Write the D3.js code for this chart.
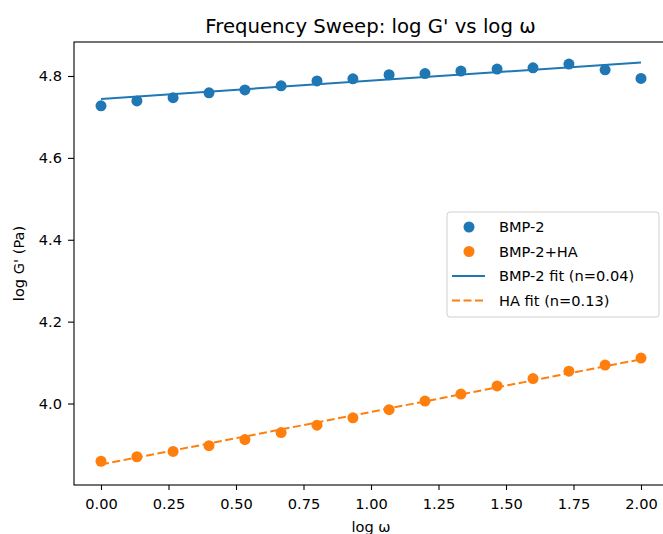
<!DOCTYPE html>
<html>
<head>
<meta charset="utf-8">
<script src="https://cdn.jsdelivr.net/npm/d3@7"></script>
<style>
  body { margin: 0; background: #fff; }
  svg { font-family: "DejaVu Sans", sans-serif; }
</style>
</head>
<body>
<svg id="chart"></svg>
<script>
// log omega values (16 points)
var logW = [0.000, 0.133, 0.267, 0.400, 0.533, 0.667, 0.800, 0.933,
            1.067, 1.200, 1.333, 1.467, 1.600, 1.733, 1.867, 2.000];

// log G' for BMP-2
var bmp2 = [4.727, 4.739, 4.747, 4.759, 4.766, 4.776, 4.788, 4.793,
            4.803, 4.806, 4.812, 4.817, 4.820, 4.829, 4.815, 4.794];

// log G' for BMP-2+HA
var bmp2ha = [3.859, 3.870, 3.883, 3.897, 3.912, 3.929, 3.947, 3.965,
              3.985, 4.006, 4.023, 4.043, 4.061, 4.079, 4.094, 4.111];

// fitted lines (end points)
var fitX = [0, 2];
var bmp2Fit = [4.744, 4.833];
var haFit = [3.851, 4.108];

var xTicks = [0, 0.25, 0.5, 0.75, 1.0, 1.25, 1.5, 1.75, 2.0];
var yTicks = [4.0, 4.2, 4.4, 4.6, 4.8];

var legendLabels = ["BMP-2", "BMP-2+HA", "BMP-2 fit (n=0.04)", "HA fit (n=0.13)"];

var blue = "#1f77b4", orange = "#ff7f0e";
var fs = "14.6px";

// set the dimensions and margins of the graph
var margin = { top: 42, right: 0, bottom: 49, left: 74 },
  width = 594,
  height = 443;

var svg = d3.select("svg#chart")
  .attr("width", 663)
  .attr("height", 534);

var g = svg.append("g")
  .attr("transform", "translate(" + margin.left + "," + margin.top + ")");

var x = d3.scaleLinear().domain([-0.1, 2.1]).range([0, width]);
var y = d3.scaleLinear().domain([3.801, 4.883]).range([height, 0]);

// frame
g.append("rect")
  .attr("x", 0).attr("y", 0)
  .attr("width", width).attr("height", height)
  .attr("fill", "none")
  .attr("stroke", "#000")
  .attr("stroke-width", 1.1);

// axes
var xAxis = g.append("g")
  .attr("transform", "translate(0," + height + ")")
  .call(d3.axisBottom(x).tickValues(xTicks).tickFormat(d3.format(".2f"))
    .tickSize(5).tickPadding(9));
var yAxis = g.append("g")
  .call(d3.axisLeft(y).tickValues(yTicks).tickFormat(d3.format(".1f"))
    .tickSize(6).tickPadding(6));
[xAxis, yAxis].forEach(function (a) {
  a.select(".domain").remove();
  a.selectAll(".tick line").attr("stroke", "#000").attr("stroke-width", 1.1);
  a.selectAll(".tick text")
    .attr("font-family", "DejaVu Sans")
    .attr("fill", "#000")
    .style("font-size", fs);
});

// fit lines
var line = d3.line()
  .x(function (d) { return x(d[0]); })
  .y(function (d) { return y(d[1]); });

g.append("path")
  .attr("d", line(d3.zip(fitX, bmp2Fit)))
  .attr("fill", "none")
  .attr("stroke", blue)
  .attr("stroke-width", 2);

g.append("path")
  .attr("d", line(d3.zip(fitX, haFit)))
  .attr("fill", "none")
  .attr("stroke", orange)
  .attr("stroke-width", 2)
  .attr("stroke-dasharray", "8,3.5");

// scatter points
g.selectAll(".pt-bmp2")
  .data(d3.zip(logW, bmp2))
  .enter().append("circle")
  .attr("cx", function (d) { return x(d[0]); })
  .attr("cy", function (d) { return y(d[1]); })
  .attr("r", 5.5)
  .attr("fill", blue);

g.selectAll(".pt-ha")
  .data(d3.zip(logW, bmp2ha))
  .enter().append("circle")
  .attr("cx", function (d) { return x(d[0]); })
  .attr("cy", function (d) { return y(d[1]); })
  .attr("r", 5.5)
  .attr("fill", orange);

// title and labels
svg.append("text")
  .attr("x", 370.5).attr("y", 33)
  .attr("text-anchor", "middle")
  .style("font-size", "19.7px")
  .text("Frequency Sweep: log G' vs log \u03c9");

svg.append("text")
  .attr("x", 371).attr("y", 532)
  .attr("text-anchor", "middle")
  .style("font-size", fs)
  .text("log \u03c9");

svg.append("text")
  .attr("transform", "translate(24," + (margin.top + height / 2) + ") rotate(-90)")
  .attr("text-anchor", "middle")
  .style("font-size", fs)
  .text("log G' (Pa)");

// legend
var lg = svg.append("g").attr("transform", "translate(447,212)");
lg.append("rect")
  .attr("width", 212).attr("height", 105)
  .attr("rx", 3)
  .attr("fill", "#fff").attr("fill-opacity", 0.8)
  .attr("stroke", "#d0d0d0");

var rowY = function (i) { return 15 + i * 24.5; };
lg.append("circle").attr("cx", 22).attr("cy", rowY(0)).attr("r", 5.5).attr("fill", blue);
lg.append("circle").attr("cx", 22).attr("cy", rowY(1)).attr("r", 5.5).attr("fill", orange);
lg.append("line").attr("x1", 5).attr("x2", 38).attr("y1", rowY(2)).attr("y2", rowY(2))
  .attr("stroke", blue).attr("stroke-width", 2);
lg.append("line").attr("x1", 5).attr("x2", 38).attr("y1", rowY(3)).attr("y2", rowY(3))
  .attr("stroke", orange).attr("stroke-width", 2).attr("stroke-dasharray", "8,3.5");

lg.selectAll(".lbl")
  .data(legendLabels)
  .enter().append("text")
  .attr("x", 52)
  .attr("y", function (d, i) { return rowY(i) + 5; })
  .style("font-size", fs)
  .text(function (d) { return d; });
</script>
</body>
</html>
